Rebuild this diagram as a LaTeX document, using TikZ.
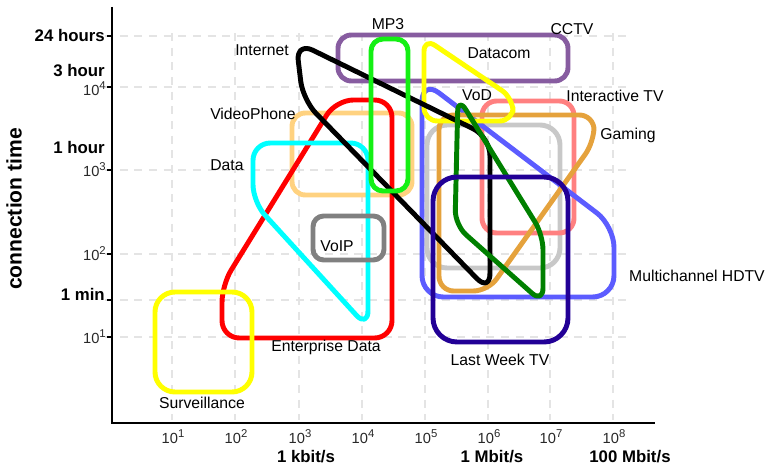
\documentclass[tikz,border=0pt]{standalone}
\usepackage{fontspec}
\setmainfont{Liberation Sans}
\definecolor{gridgray}{RGB}{228,228,228}
\definecolor{cctvc}{RGB}{135,92,160}
\definecolor{mpc}{RGB}{20,240,20}
\definecolor{vodc}{RGB}{92,92,255}
\definecolor{itvc}{RGB}{255,128,128}
\definecolor{gamec}{RGB}{229,162,60}
\definecolor{lgray}{RGB}{200,200,200}
\definecolor{dgreen}{RGB}{0,128,0}
\definecolor{lwtv}{RGB}{34,0,150}
\definecolor{vphc}{RGB}{255,210,128}
\definecolor{voipc}{RGB}{128,128,128}
\definecolor{cyanc}{RGB}{0,255,255}
\definecolor{yellowc}{RGB}{255,255,0}
\definecolor{redc}{RGB}{255,0,0}
\definecolor{tickc}{RGB}{40,40,40}
\newcommand{\pw}[1]{10\raisebox{0.42em}{\fontsize{8.5}{9}\selectfont #1}}
\begin{document}
\begin{tikzpicture}[x=0.75pt,y=-0.75pt,
  region/.style={line width=3.7pt, line join=round},
  lbl/.style={font=\fontsize{11.8}{14}\selectfont, inner sep=0pt},
  ticklbl/.style={font=\fontsize{11}{13}\selectfont, text=tickc, inner sep=0pt},
  blab/.style={font=\bfseries\fontsize{12.6}{15}\selectfont, inner sep=0pt},
  gridline/.style={draw=gridgray, line width=0.8pt, dash pattern=on 6pt off 5pt},
  axisline/.style={line width=1.6pt}]
\useasboundingbox (0,0) rectangle (768,466);

% grid
\foreach \gx in {172,235,299,362,425,488,550,613}
  \draw[gridline] (\gx,33) -- (\gx,420);
\foreach \gy in {36,87,170,254,300,337}
  \draw[gridline] (105,\gy) -- (630,\gy);

% regions
\draw[region, cctvc, rounded corners=10pt] (338,35) rectangle (568,81);
\draw[region, vphc, rounded corners=10pt] (292,113) rectangle (412,195);
\draw[region, lgray, rounded corners=15pt] (427,125) rectangle (560,268);
\draw[region, itvc, rounded corners=11pt] (482,101) rectangle (574,233);
\draw[region, vodc, rounded corners=16pt] (422,80) -- (614,226) -- (614,297) -- (422,297) -- cycle;
\draw[region, gamec, rounded corners=11pt] (439,115) -- (594,115) -- (594,142) -- (488,291) -- (439,291) -- cycle;
\draw[region, yellowc, rounded corners=10pt] (424,38) -- (513,98) -- (513,121) -- (424,121) -- cycle;
\draw[region, redc, rounded corners=13pt] (336,100) -- (392,100) -- (392,338) -- (222,338) -- (222,285) -- cycle;
\draw[region, cyanc, rounded corners=13pt] (253,143) -- (368,143) -- (368,328) -- (253,202) -- cycle;
\draw[region, voipc, rounded corners=8pt] (313,216) rectangle (384,260);
\draw[region, black, rounded corners=14pt] (296,42) -- (490,137) -- (490,292) -- (303,100) -- cycle;
\draw[region, mpc, rounded corners=9pt] (371,39) rectangle (408,191);
\draw[region, dgreen, rounded corners=11pt] (458,97) -- (543,235) -- (543,303) -- (455,225) -- cycle;
\draw[region, lwtv, rounded corners=18pt] (433,177) rectangle (568,342);
\draw[region, yellowc, rounded corners=15pt] (155,292) rectangle (252,392);

% axes
\draw[axisline] (112,7) -- (112,423) -- (655,423);
\foreach \gy in {36,87,170,254,300,337}
  \draw[line width=0.8pt] (107,\gy) -- (112,\gy);

% y tick labels
\node[ticklbl, anchor=east] (y4) at (106,89) {\pw{4}};
\node[ticklbl, anchor=east] (y3) at (106,170) {\pw{3}};
\node[ticklbl, anchor=east] (y2) at (106,254) {\pw{2}};
\node[ticklbl, anchor=east] (y1) at (106,337) {\pw{1}};
\node[blab, anchor=east] (h24) at (105,36) {24 hours};
\node[blab, anchor=east] (h3) at (105,71) {3 hour};
\node[blab, anchor=east] (h1) at (105,147) {1 hour};
\node[blab, anchor=east] (m1) at (105,294) {1 min};

% x tick labels
\node[ticklbl] (x1) at (173,437) {\pw{1}};
\node[ticklbl] (x2) at (236,437) {\pw{2}};
\node[ticklbl] (x3) at (300,437) {\pw{3}};
\node[ticklbl] (x4) at (363,437) {\pw{4}};
\node[ticklbl] (x5) at (426,437) {\pw{5}};
\node[ticklbl] (x6) at (489,437) {\pw{6}};
\node[ticklbl] (x7) at (551,437) {\pw{7}};
\node[ticklbl] (x8) at (614,437) {\pw{8}};
\node[blab] (kb) at (306,457) {1 kbit/s};
\node[blab] (mb) at (492,457) {1 Mbit/s};
\node[blab] (hmb) at (630,457) {100 Mbit/s};

\node[font=\bfseries\fontsize{15.8}{18}\selectfont, inner sep=0pt, rotate=90] (ylab) at (14,209) {connection time};

% region labels
\node[lbl] (lmp3) at (388,24) {MP3};
\node[lbl] (lcctv) at (572,29) {CCTV};
\node[lbl] (ldatacom) at (499,53) {Datacom};
\node[lbl] (linternet) at (262,50) {Internet};
\node[lbl] (lvph) at (253,114) {VideoPhone};
\node[lbl] (ldata) at (227,165) {Data};
\node[lbl] (lvod) at (477,95) {VoD};
\node[lbl] (litv) at (615,96) {Interactive TV};
\node[lbl] (lgame) at (628,135) {Gaming};
\node[lbl] (lhdtv) at (697,276) {Multichannel HDTV};
\node[lbl] (llwtv) at (500,360) {Last Week TV};
\node[lbl] (lvoip) at (337,246) {VoIP};
\node[lbl] (lent) at (326,347) {Enterprise Data};
\node[lbl] (lsurv) at (202,403) {Surveillance};
\end{tikzpicture}
\end{document}
